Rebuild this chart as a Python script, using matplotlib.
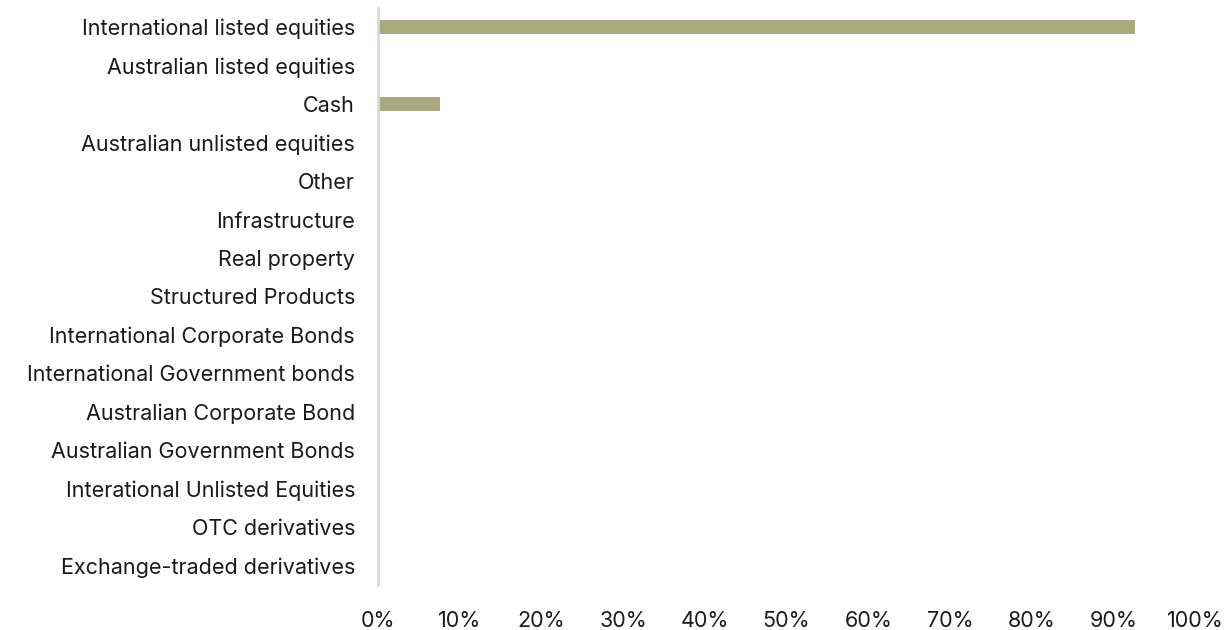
import matplotlib.pyplot as plt
from matplotlib.ticker import PercentFormatter

plt.rcParams['font.family'] = ['Inter', 'DejaVu Sans']

categories = [
    'International listed equities',
    'Australian listed equities',
    'Cash',
    'Australian unlisted equities',
    'Other',
    'Infrastructure',
    'Real property',
    'Structured Products',
    'International Corporate Bonds',
    'International Government bonds',
    'Australian Corporate Bond',
    'Australian Government Bonds',
    'Interational Unlisted Equities',
    'OTC derivatives',
    'Exchange-traded derivatives',
]
values = [92.7, 0, 7.6, 0, 0, 0, 0, 0, 0, 0, 0, 0, 0, 0, 0]

fig = plt.figure(figsize=(12.29, 6.3), dpi=100)
ax = fig.add_axes([378 / 1229, 45 / 630, (1195 - 378) / 1229, (585 - 8) / 630])

ypos = range(len(categories))
ax.barh(ypos, values, height=0.37, color='#a8aa7e')

ax.set_ylim(len(categories) - 0.5, -0.5)
ax.set_xlim(0, 100)
ax.set_yticks(list(ypos))
ax.set_yticklabels(categories, fontsize=15.5, color='#1a1a1a')
ax.set_xticks(range(0, 101, 10))
ax.xaxis.set_major_formatter(PercentFormatter(decimals=0))
ax.tick_params(axis='x', length=0, pad=19, labelsize=15.5, labelcolor='#1a1a1a')
ax.tick_params(axis='y', length=0, pad=16.5)

for s in ['top', 'right', 'bottom']:
    ax.spines[s].set_visible(False)
ax.spines['left'].set_color('#d9d9d9')
ax.spines['left'].set_linewidth(2)

fig.savefig('out.png', dpi=100, facecolor='white')
